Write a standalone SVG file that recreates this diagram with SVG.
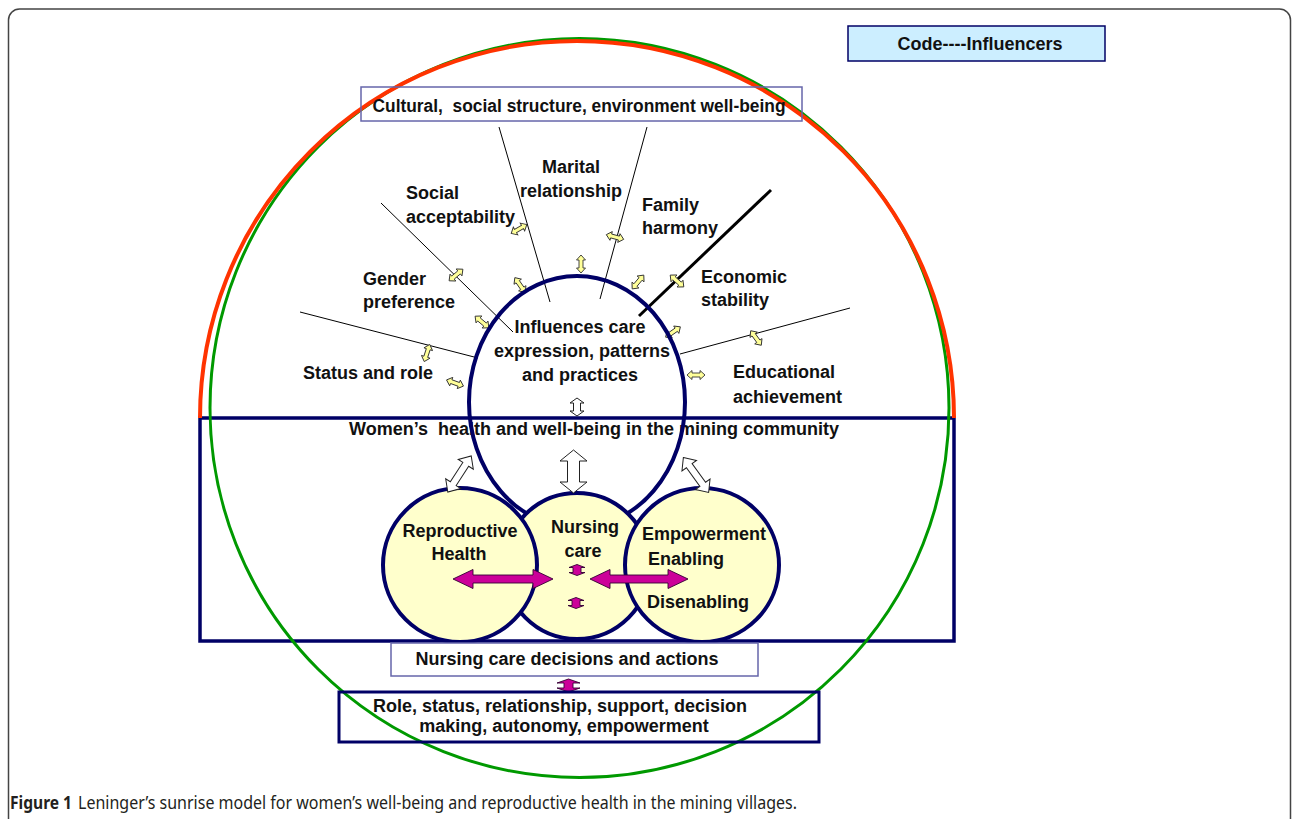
<svg xmlns="http://www.w3.org/2000/svg" xmlns:xlink="http://www.w3.org/1999/xlink" width="1292" height="819" viewBox="0 0 1292 819">
<style>
text{font-family:"Liberation Sans",Arial,sans-serif;font-weight:bold;font-size:18px;fill:#111}
.c{text-anchor:middle}
.thin{stroke:#000;stroke-width:1;fill:none}
.ya{fill:#ffff99;stroke:#333;stroke-width:0.9}
.wa{fill:#fff;stroke:#222;stroke-width:1}
.ma{fill:#cc0099;stroke:#330033;stroke-width:0.9}
.nav{stroke:#000066;stroke-width:4}
.cap{font-family:"Noto Sans","Open Sans",sans-serif;font-weight:normal;font-size:18px;fill:#231f20}
.capb{font-family:"Noto Sans","Open Sans",sans-serif;font-weight:bold;font-size:18px;fill:#231f20}
</style>
<defs>
<path id="ya" d="M-9,0 L-4,-4.5 L-4,-2 L4,-2 L4,-4.5 L9,0 L4,4.5 L4,2 L-4,2 L-4,4.5 Z"/>
<path id="wd" d="M-21.5,0 L-11.5,-9 L-11.5,-3.5 L11.5,-3.5 L11.5,-9 L21.5,0 L11.5,9 L11.5,3.5 L-11.5,3.5 L-11.5,9 Z"/>
</defs>
<rect id="frame" x="8.5" y="9" width="1282" height="840" rx="11" fill="none" stroke="#444" stroke-width="1.5"/>

<g id="community-box">
<rect x="200" y="418" width="754" height="223" fill="none" stroke="#000066" stroke-width="3.5"/>
<text x="594" y="435" class="c" xml:space="preserve">Women’s  health and well-being in the mining community</text>
</g>

<g id="sunrise">
<circle cx="579.5" cy="408" r="369.5" fill="none" stroke="#009900" stroke-width="3"/>
<path d="M200,418 A377,377 0 0 1 954,418" fill="none" stroke="#ff3300" stroke-width="4"/>
</g>

<g id="code-box">
<rect x="848" y="26" width="257" height="35" fill="#cceeff" stroke="#000066" stroke-width="1.5"/>
<text x="980" y="50" class="c">Code----Influencers</text>
</g>

<g id="cultural-box">
<rect x="361" y="87" width="441" height="34" fill="none" stroke="#6666aa" stroke-width="1.5"/>
<text x="579" y="112" class="c" xml:space="preserve" textLength="413" lengthAdjust="spacingAndGlyphs">Cultural,  social structure, environment well-being</text>
</g>

<g id="connectors">
<line class="thin" x1="300" y1="312" x2="478" y2="358"/>
<line class="thin" x1="381" y1="203" x2="513" y2="332"/>
<line class="thin" x1="499" y1="127" x2="550" y2="302"/>
<line class="thin" x1="647" y1="127" x2="600" y2="299"/>
<line x1="771" y1="190" x2="639" y2="316" stroke="#000" stroke-width="3"/>
<line class="thin" x1="850" y1="308" x2="680" y2="354"/>
<g class="ya">
<use xlink:href="#ya" transform="translate(519,229) rotate(-30)"/>
<use xlink:href="#ya" transform="translate(456,275) rotate(-40)"/>
<use xlink:href="#ya" transform="translate(520,285) rotate(55)"/>
<use xlink:href="#ya" transform="translate(482,322) rotate(40)"/>
<use xlink:href="#ya" transform="translate(427,353) rotate(108)"/>
<use xlink:href="#ya" transform="translate(455,383) rotate(20)"/>
<use xlink:href="#ya" transform="translate(615,237) rotate(15)"/>
<use xlink:href="#ya" transform="translate(581,264) rotate(90)"/>
<use xlink:href="#ya" transform="translate(638,282) rotate(-50)"/>
<use xlink:href="#ya" transform="translate(677,281) rotate(41)"/>
<use xlink:href="#ya" transform="translate(673,332) rotate(-35)"/>
<use xlink:href="#ya" transform="translate(756,338) rotate(54)"/>
<use xlink:href="#ya" transform="translate(696,375)"/>
</g>
</g>

<g id="labels">
<text x="571" y="173" class="c">Marital</text>
<text x="571" y="197" class="c">relationship</text>
<text x="406" y="199">Social</text>
<text x="406" y="223">acceptability</text>
<text x="363" y="285">Gender</text>
<text x="363" y="308">preference</text>
<text x="303" y="379">Status and role</text>
<text x="642" y="211">Family</text>
<text x="642" y="234">harmony</text>
<text x="701" y="283">Economic</text>
<text x="701" y="306">stability</text>
<text x="733" y="378">Educational</text>
<text x="733" y="403">achievement</text>
</g>

<g id="influences">
<ellipse cx="577" cy="402" rx="108" ry="126" fill="none" class="nav"/>
<text x="580" y="333" class="c">Influences care</text>
<text x="582" y="357" class="c">expression, patterns</text>
<text x="580" y="381" class="c">and practices</text>
<path class="wa" d="M0,-9 L7,-4 L3.5,-4 L3.5,4 L7,4 L0,9 L-7,4 L-3.5,4 L-3.5,-4 L-7,-4 Z" transform="translate(577,407)"/>
</g>

<g id="nursing-care">
<circle cx="577" cy="566" r="73" fill="#ffffcc" class="nav"/>
<text x="585" y="533" class="c">Nursing</text>
<text x="583" y="557" class="c">care</text>
</g>
<g id="reproductive-health">
<circle cx="460" cy="565" r="77" fill="#ffffcc" class="nav"/>
<text x="460" y="537" class="c">Reproductive</text>
<text x="459" y="560" class="c">Health</text>
</g>
<g id="empowerment">
<circle cx="702" cy="565" r="77" fill="#ffffcc" class="nav"/>
<text x="642" y="540">Empowerment</text>
<text x="648" y="565">Enabling</text>
<text x="647" y="608">Disenabling</text>
</g>

<g id="arrows">
<use xlink:href="#wd" class="wa" transform="translate(459.5,474) rotate(-57)"/>
<use xlink:href="#wd" class="wa" transform="translate(696,475) rotate(54)"/>
<path class="wa" d="M0,-21.5 L13.5,-10.5 L6,-10.5 L6,10.5 L13.5,10.5 L0,21.5 L-13.5,10.5 L-6,10.5 L-6,-10.5 L-13.5,-10.5 Z" transform="translate(573.5,471.5)"/>
<path class="ma" d="M-50,0 L-30,-9.5 L-30,-4 L30,-4 L30,-9.5 L50,0 L30,9.5 L30,4 L-30,4 L-30,9.5 Z" transform="translate(503,579)"/>
<path class="ma" d="M-49,0 L-29,-9.5 L-29,-4 L29,-4 L29,-9.5 L49,0 L29,9.5 L29,4 L-29,4 L-29,9.5 Z" transform="translate(639,579)"/>
<path class="ma" d="M0,-5.5 L8,-2.5 L4,-2.5 L4,2.5 L8,2.5 L0,5.5 L-8,2.5 L-4,2.5 L-4,-2.5 L-8,-2.5 Z" transform="translate(577,570)"/>
<path class="ma" d="M0,-5.5 L8,-2.5 L4,-2.5 L4,2.5 L8,2.5 L0,5.5 L-8,2.5 L-4,2.5 L-4,-2.5 L-8,-2.5 Z" transform="translate(576,603)"/>
<path class="ma" d="M0,-6.5 L11.5,-2.5 L4.5,-2.5 L4.5,2.5 L11.5,2.5 L0,6.5 L-11.5,2.5 L-4.5,2.5 L-4.5,-2.5 L-11.5,-2.5 Z" transform="translate(568.5,685.5)"/>
</g>

<g id="decisions-box">
<rect x="391" y="643" width="367" height="33" fill="#fff" stroke="#6666aa" stroke-width="1.5"/>
<text x="567" y="665" class="c">Nursing care decisions and actions</text>
</g>

<g id="role-box">
<rect x="339" y="692" width="480" height="50" fill="none" stroke="#000066" stroke-width="3"/>
<text x="560" y="712" class="c">Role, status, relationship, support, decision</text>
<text x="564" y="732" class="c">making, autonomy, empowerment</text>
</g>

<g id="caption">
<text class="capb" x="10" y="809" textLength="62" lengthAdjust="spacingAndGlyphs">Figure 1</text>
<text class="cap" x="78" y="809" textLength="719" lengthAdjust="spacingAndGlyphs">Leninger’s sunrise model for women’s well-being and reproductive health in the mining villages.</text>
</g>
</svg>
